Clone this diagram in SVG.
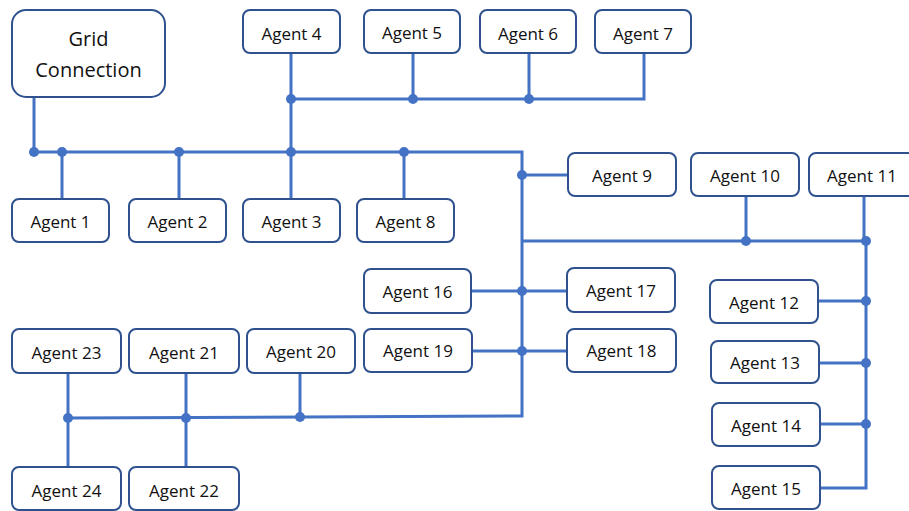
<svg xmlns="http://www.w3.org/2000/svg" width="909" height="511" viewBox="0 0 909 511">
<style>
.box{fill:#fff;stroke:#2f528f;stroke-width:2}
.t{font-family:"Open Sans","Liberation Sans",sans-serif;font-size:17px;fill:#111;text-anchor:middle;dominant-baseline:central}
.g{font-size:20px}
.w{fill:none;stroke:#4472c4;stroke-width:3}
.d{fill:#4472c4}
</style>
<rect width="909" height="511" fill="#fff"/>
<g id="connectors">
<path class="w" d="M34 97V152H522V416L68 418"/>
<path class="w" d="M62 152V199M179 152V199M291 53V199M404 152V199"/>
<path class="w" d="M291 99H644V53M413 53V99M529 53V99"/>
<path class="w" d="M522 175H568M522 241H866M746 196V241M864 196V241L866 241V488H820"/>
<path class="w" d="M818 301H866M819 363H866M820 424H866"/>
<path class="w" d="M471 291H567M472 351H567"/>
<path class="w" d="M68 373V467M186 373V467M300 373V417"/>
<g class="d">
<circle cx="34" cy="152" r="5"/><circle cx="62" cy="152" r="5"/><circle cx="179" cy="152" r="5"/><circle cx="291" cy="152" r="5"/><circle cx="404" cy="152" r="5"/>
<circle cx="291" cy="99" r="5"/><circle cx="413" cy="99" r="5"/><circle cx="529" cy="99" r="5"/>
<circle cx="522" cy="175" r="5"/><circle cx="746" cy="241" r="5"/><circle cx="866" cy="241" r="5"/>
<circle cx="866" cy="301" r="5"/><circle cx="866" cy="363" r="5"/><circle cx="866" cy="424" r="5"/>
<circle cx="522" cy="291" r="5"/><circle cx="522" cy="351" r="5"/>
<circle cx="68" cy="418" r="5"/><circle cx="186" cy="418" r="5"/><circle cx="300" cy="417" r="5"/>
</g>
</g>
<g id="grid"><rect class="box" x="12" y="10" width="153" height="87" rx="14"/><text class="t g" x="88.5" y="38">Grid</text><text class="t g" x="88.5" y="69">Connection</text></g>
<g id="agent1"><rect class="box" x="12" y="199" width="97" height="43" rx="7"/><text class="t" x="60.5" y="221">Agent 1</text></g>
<g id="agent2"><rect class="box" x="129" y="199" width="97" height="43" rx="7"/><text class="t" x="177.5" y="221">Agent 2</text></g>
<g id="agent3"><rect class="box" x="243" y="199" width="97" height="43" rx="7"/><text class="t" x="291.5" y="221">Agent 3</text></g>
<g id="agent8"><rect class="box" x="357" y="199" width="97" height="43" rx="7"/><text class="t" x="405.5" y="221">Agent 8</text></g>
<g id="agent4"><rect class="box" x="243" y="10" width="97" height="43" rx="7"/><text class="t" x="291.5" y="33">Agent 4</text></g>
<g id="agent5"><rect class="box" x="364" y="10" width="96" height="43" rx="7"/><text class="t" x="412" y="32">Agent 5</text></g>
<g id="agent6"><rect class="box" x="480" y="10" width="96" height="43" rx="7"/><text class="t" x="528" y="33">Agent 6</text></g>
<g id="agent7"><rect class="box" x="595" y="10" width="96" height="43" rx="7"/><text class="t" x="643" y="33">Agent 7</text></g>
<g id="agent9"><rect class="box" x="568" y="153" width="108" height="43" rx="7"/><text class="t" x="622" y="175">Agent 9</text></g>
<g id="agent10"><rect class="box" x="691" y="153" width="108" height="43" rx="7"/><text class="t" x="745" y="175">Agent 10</text></g>
<g id="agent11"><rect class="box" x="809" y="153" width="108" height="43" rx="7"/><text class="t" x="862" y="175">Agent 11</text></g>
<g id="agent12"><rect class="box" x="710" y="280" width="108" height="43" rx="7"/><text class="t" x="764" y="302">Agent 12</text></g>
<g id="agent13"><rect class="box" x="711" y="341" width="108" height="42" rx="7"/><text class="t" x="765" y="362">Agent 13</text></g>
<g id="agent14"><rect class="box" x="712" y="403" width="108" height="43" rx="7"/><text class="t" x="766" y="425">Agent 14</text></g>
<g id="agent15"><rect class="box" x="712" y="466" width="108" height="43" rx="7"/><text class="t" x="766" y="488">Agent 15</text></g>
<g id="agent16"><rect class="box" x="364" y="269" width="107" height="44" rx="7"/><text class="t" x="417.5" y="291">Agent 16</text></g>
<g id="agent17"><rect class="box" x="567" y="268" width="108" height="44" rx="7"/><text class="t" x="621" y="290">Agent 17</text></g>
<g id="agent19"><rect class="box" x="364" y="329" width="108" height="43" rx="7"/><text class="t" x="418" y="350">Agent 19</text></g>
<g id="agent18"><rect class="box" x="567" y="329" width="109" height="43" rx="7"/><text class="t" x="621.5" y="350">Agent 18</text></g>
<g id="agent23"><rect class="box" x="12" y="329" width="109" height="44" rx="7"/><text class="t" x="66.5" y="352">Agent 23</text></g>
<g id="agent21"><rect class="box" x="129" y="329" width="110" height="44" rx="7"/><text class="t" x="184" y="352">Agent 21</text></g>
<g id="agent20"><rect class="box" x="247" y="329" width="108" height="44" rx="7"/><text class="t" x="301" y="351">Agent 20</text></g>
<g id="agent24"><rect class="box" x="12" y="467" width="109" height="43" rx="7"/><text class="t" x="66.5" y="490">Agent 24</text></g>
<g id="agent22"><rect class="box" x="129" y="467" width="110" height="43" rx="7"/><text class="t" x="184" y="490">Agent 22</text></g>
</svg>
